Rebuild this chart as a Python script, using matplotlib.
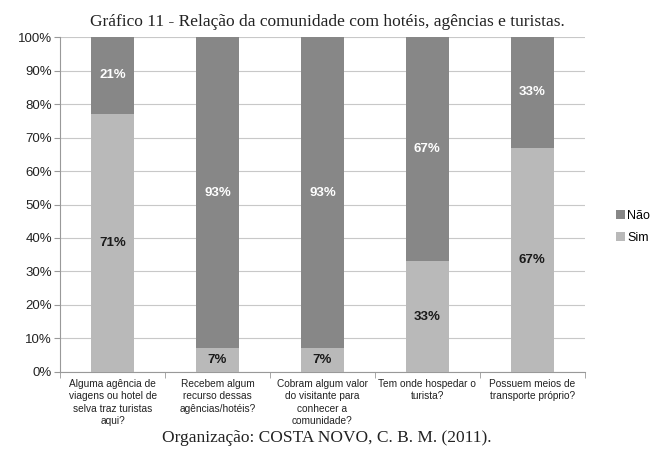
import numpy as np
import matplotlib.pyplot as plt

categorias = [
    'Alguma agência de\nviagens ou hotel de\nselva traz turistas\naqui?',
    'Recebem algum\nrecurso dessas\nagências/hotéis?',
    'Cobram algum valor\ndo visitante para\nconhecer a\ncomunidade?',
    'Tem onde hospedar o\nturista?',
    'Possuem meios de\ntransporte próprio?',
]
sim = [71, 7, 7, 33, 67]
nao = [21, 93, 93, 67, 33]

sim_a = np.array(sim, dtype=float)
nao_a = np.array(nao, dtype=float)
total = sim_a + nao_a
sim_p = sim_a / total * 100
nao_p = nao_a / total * 100

plt.rcParams['font.family'] = ['Liberation Sans', 'DejaVu Sans']

fig = plt.figure(figsize=(6.54, 4.54), dpi=100)
ax = fig.add_axes([0.092, 0.181, 0.802, 0.737])

x = np.arange(len(categorias))
cor_sim = '#b9b9b9'
cor_nao = '#878787'
larg = 0.41

ax.bar(x, sim_p, width=larg, color=cor_sim, label='Sim', zorder=3)
ax.bar(x, nao_p, width=larg, bottom=sim_p, color=cor_nao, label='Não', zorder=3)

for i in range(len(x)):
    ax.text(x[i], sim_p[i] / 2, f'{sim[i]}%', ha='center', va='center',
            fontsize=9.5, fontweight='bold', color='#1a1a1a', zorder=4)
    ax.text(x[i], sim_p[i] + nao_p[i] / 2, f'{nao[i]}%', ha='center', va='center',
            fontsize=9.5, fontweight='bold', color='white', zorder=4)

ax.set_xlim(-0.5, len(x) - 0.5)
ax.set_ylim(0, 100)
ax.set_yticks(np.arange(0, 101, 10))
ax.set_yticklabels([f'{v}%' for v in range(0, 101, 10)], fontsize=9.5, color='#222222')
ax.yaxis.grid(True, color='#c8c8c8', linewidth=0.8, zorder=0)

ax.set_xticks(x)
ax.set_xticklabels(categorias, fontsize=7.3, color='#222222', linespacing=1.3)
ax.tick_params(axis='x', length=0, pad=5)
ax.set_xticks(np.arange(-0.5, len(x), 1), minor=True)
ax.tick_params(axis='x', which='minor', length=4, color='#999999')
ax.tick_params(axis='y', length=4, color='#999999', pad=2)

for s in ['top', 'right']:
    ax.spines[s].set_visible(False)
for s in ['left', 'bottom']:
    ax.spines[s].set_color('#999999')

h, l = ax.get_legend_handles_labels()
fig.legend(h[::-1], l[::-1], loc='center left', bbox_to_anchor=(0.925, 0.50),
           frameon=False, fontsize=9, handlelength=0.7, handleheight=0.7,
           handletextpad=0.2, labelspacing=0.8)

fig.text(0.5, 0.952, 'Gráfico 11 - Relação da comunidade com hotéis, agências e turistas.',
         ha='center', va='center', fontsize=12.5, family='Liberation Serif', color='#222222')
fig.text(0.5, 0.035, 'Organização: COSTA NOVO, C. B. M. (2011).',
         ha='center', va='center', fontsize=12.5, family='Liberation Serif', color='#222222')

fig.savefig('out.png', dpi=100)
